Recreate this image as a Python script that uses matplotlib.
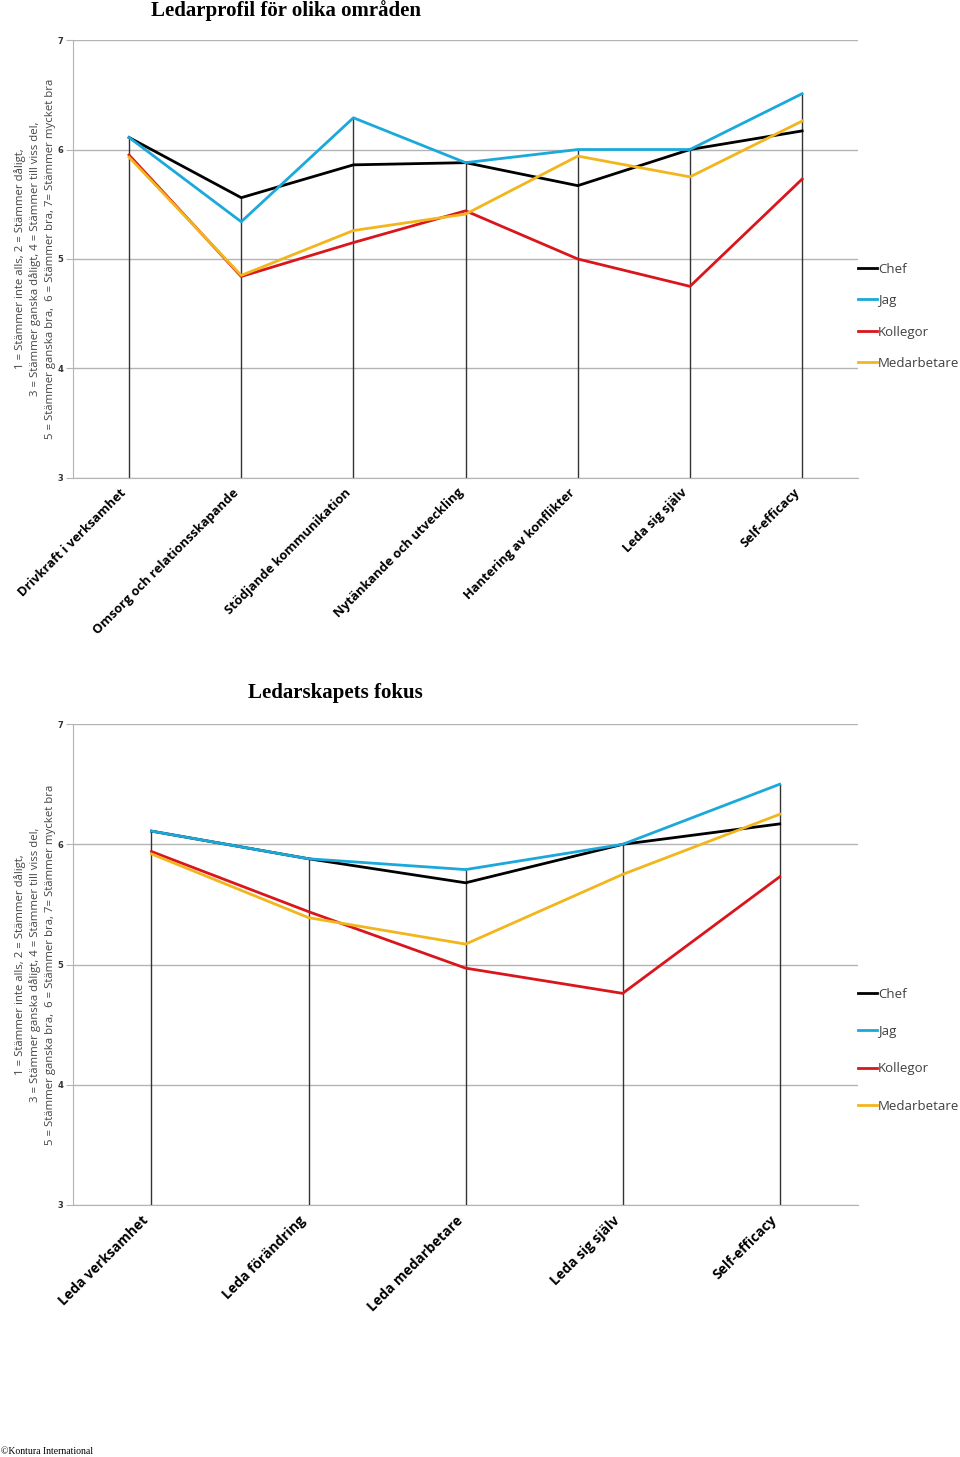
import matplotlib
matplotlib.use("Agg")
import matplotlib.pyplot as plt
from matplotlib.transforms import ScaledTranslation

# Chart 1: Ledarprofil för olika områden
areas = ["Drivkraft i verksamhet", "Omsorg och relationsskapande",
         "Stödjande kommunikation", "Nytänkande och utveckling",
         "Hantering av konflikter", "Leda sig själv", "Self-efficacy"]
chef_1 = [6.11, 5.56, 5.86, 5.88, 5.67, 6.00, 6.17]
jag_1 = [6.11, 5.34, 6.29, 5.88, 6.00, 6.00, 6.51]
kollegor_1 = [5.95, 4.84, 5.15, 5.44, 5.00, 4.75, 5.73]
medarb_1 = [5.93, 4.85, 5.26, 5.41, 5.94, 5.75, 6.26]

# Chart 2: Ledarskapets fokus
focus = ["Leda verksamhet", "Leda förändring", "Leda medarbetare",
         "Leda sig själv", "Self-efficacy"]
chef_2 = [6.11, 5.88, 5.68, 6.00, 6.17]
jag_2 = [6.11, 5.88, 5.79, 6.00, 6.50]
kollegor_2 = [5.94, 5.44, 4.97, 4.76, 5.73]
medarb_2 = [5.92, 5.39, 5.17, 5.75, 6.25]

series_names = ["Chef", "Jag", "Kollegor", "Medarbetare"]
colors = ["#000000", "#1ba8da", "#d9161b", "#f2b61c"]

ylabel = ("1 = Stämmer inte alls, 2 = Stämmer dåligt,\n"
          "3 = Stämmer ganska dåligt, 4 = Stämmer till viss del,\n"
          "5 = Stämmer ganska bra,  6 = Stämmer bra, 7= Stämmer mycket bra")

fig = plt.figure(figsize=(9.6, 14.57), dpi=100)
ax1 = fig.add_axes([0.076, 0.672, 0.818, 0.3005])
ax2 = fig.add_axes([0.076, 0.173, 0.818, 0.330])


def draw_chart(ax, cats, data, label_size, leg_y, leg_space):
    x = [i + 0.5 for i in range(len(cats))]
    tops = [max(vals) for vals in zip(*data)]
    ax.vlines(x, 3, tops, color="#333333", lw=1.0, zorder=2)
    for vals, name, c in zip(data, series_names, colors):
        ax.plot(x, vals, color=c, lw=2.0, label=name, zorder=3)
    ax.set_xlim(0, len(cats))
    ax.set_ylim(3, 7)
    ax.set_yticks([3, 4, 5, 6, 7])
    ax.yaxis.grid(True, color="#b4b4b4", lw=1.0)
    ax.set_axisbelow(True)
    for s in ["top", "right"]:
        ax.spines[s].set_visible(False)
    ax.spines["left"].set_color("#b4b4b4")
    ax.spines["bottom"].set_color("#b4b4b4")
    ax.tick_params(axis="y", length=5, color="#b4b4b4", labelsize=6, pad=2)
    for t in ax.get_yticklabels():
        t.set_fontweight("bold")
        t.set_color("#333333")
    ax.set_xticks(x)
    ax.set_xticklabels(cats, rotation=45, ha="right", va="top",
                       fontsize=label_size, fontweight="bold",
                       family="Open Sans")
    shift = ScaledTranslation(5 / 100, 0, fig.dpi_scale_trans)
    for t in ax.get_xticklabels():
        t.set_transform(t.get_transform() + shift)
    ax.tick_params(axis="x", length=0, pad=6)
    ax.set_ylabel(ylabel, family="Open Sans", fontsize=8.2,
                  color="#444444", linespacing=1.4)
    ax.yaxis.set_label_coords(-0.022, 0.5)
    leg = ax.legend(loc="center left", bbox_to_anchor=(1.0, leg_y),
                    frameon=False, handlelength=1.4, handletextpad=0.1,
                    labelspacing=leg_space, borderpad=0, borderaxespad=0,
                    prop={"family": "Open Sans", "size": 9.5})
    for t in leg.get_texts():
        t.set_color("#404040")


draw_chart(ax1, areas, [chef_1, jag_1, kollegor_1, medarb_1], 9.3, 0.369, 1.4)
draw_chart(ax2, focus, [chef_2, jag_2, kollegor_2, medarb_2], 10.0, 0.322, 1.85)

fig.text(0.298, 0.9925, "Ledarprofil för olika områden", ha="center", va="center",
         family="Liberation Serif", fontweight="bold", fontsize=15)
fig.text(0.349, 0.5245, "Ledarskapets fokus", ha="center", va="center",
         family="Liberation Serif", fontweight="bold", fontsize=15)
fig.text(0.001, 0.0035, "©Kontura International", ha="left", va="center",
         family="Liberation Serif", fontsize=7)

fig.savefig("out.png", dpi=100)
